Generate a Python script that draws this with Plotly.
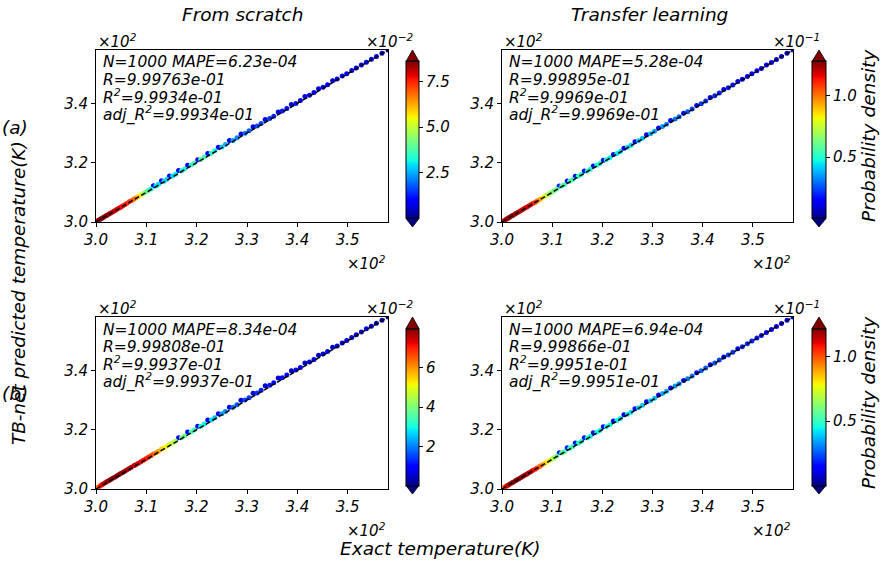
import numpy as np
import plotly.graph_objects as go

W, H = 881, 571

# ---- data -------------------------------------------------------------
# exact temperatures of the test samples (K)
exact_K = [300.0, 300.3, 300.6, 300.9, 301.2, 301.5, 301.9, 302.2, 302.6, 302.9,
           303.3, 303.7, 304.1, 304.5, 304.9, 305.3, 305.7, 306.1, 306.6, 307.0,
           307.5, 307.9, 308.4, 308.9, 309.4, 309.9, 310.4, 310.9, 311.4, 311.9,
           312.4, 313.0, 313.5, 314.1, 314.6, 315.2, 315.8, 316.4, 317.0, 317.6,
           318.2, 318.9, 319.5, 320.2, 320.8, 321.5, 322.2, 322.9, 323.6, 324.3,
           325.0, 325.7, 326.5, 327.2, 328.0, 328.8, 329.6, 330.4, 331.2, 332.0,
           332.8, 333.6, 334.5, 335.3, 336.2, 337.0, 337.9, 338.8, 339.7, 340.6,
           341.5, 342.4, 343.3, 344.2, 345.1, 346.0, 347.0, 347.9, 348.9, 349.8,
           350.8, 351.7, 352.7, 353.7, 354.7, 355.7, 356.8, 358.0]

# prediction error (predicted - exact, K) and point density, per model
err_scratch_a = [0.0, 0.1, 0.1, 0.1, 0.1, 0.1, 0.1, 0.1, 0.1, 0.1,
                 0.1, 0.1, 0.1, 0.1, 0.1, 0.1, 0.1, 0.1, 0.2, 0.2,
                 0.2, 0.2, 0.2, 0.2, 0.2, 0.2, 0.2, 0.2, 0.8, 0.2,
                 0.3, 0.9, 0.2, 0.3, 0.9, 0.3, 0.3, 1.0, 0.3, 0.3,
                 0.9, 0.3, 0.3, 0.8, 0.3, 0.4, 0.9, 0.3, 0.4, 0.9,
                 0.3, 0.4, 1.0, 0.3, 0.4, 0.9, 0.3, 0.4, 0.9, 0.4,
                 0.4, 1.0, 0.4, 0.4, 0.9, 0.4, 0.4, 0.8, 0.3, 0.4,
                 0.8, 0.3, 0.4, 0.7, 0.3, 0.3, 0.6, 0.3, 0.3, 0.2,
                 0.3, 0.2, 0.2, 0.2, 0.2, 0.1, 0.1, 0.0]
dens_scratch_a = [0.078, 0.082, 0.084, 0.085, 0.086, 0.085, 0.085, 0.084, 0.083, 0.082,
                  0.081, 0.080, 0.079, 0.078, 0.077, 0.076, 0.075, 0.074, 0.073, 0.071,
                  0.068, 0.064, 0.058, 0.052, 0.046, 0.041, 0.036, 0.033, 0.010, 0.030,
                  0.029, 0.009, 0.028, 0.028, 0.009, 0.029, 0.030, 0.008, 0.031, 0.032,
                  0.009, 0.034, 0.036, 0.010, 0.038, 0.037, 0.010, 0.034, 0.031, 0.009,
                  0.028, 0.026, 0.008, 0.024, 0.022, 0.007, 0.020, 0.019, 0.008, 0.017,
                  0.016, 0.008, 0.015, 0.014, 0.007, 0.013, 0.012, 0.007, 0.012, 0.011,
                  0.007, 0.011, 0.010, 0.006, 0.010, 0.010, 0.006, 0.009, 0.009, 0.009,
                  0.008, 0.008, 0.008, 0.007, 0.007, 0.007, 0.006, 0.006]

err_transfer_a = [0.0, 0.0, 0.0, 0.1, 0.1, 0.1, 0.1, 0.1, 0.1, 0.1,
                  0.1, 0.1, 0.1, 0.1, 0.1, 0.1, 0.1, 0.1, 0.1, 0.1,
                  0.1, 0.1, 0.1, 0.1, 0.1, 0.1, 0.1, 0.2, 0.7, 0.2,
                  0.2, 0.8, 0.2, 0.2, 0.8, 0.2, 0.2, 0.8, 0.2, 0.2,
                  0.7, 0.2, 0.2, 0.6, 0.2, 0.2, 0.6, 0.2, 0.2, 0.6,
                  0.2, 0.2, 0.6, 0.2, 0.2, 0.6, 0.2, 0.2, 0.5, 0.2,
                  0.2, 0.6, 0.2, 0.2, 0.5, 0.2, 0.2, 0.5, 0.2, 0.2,
                  0.5, 0.2, 0.2, 0.5, 0.2, 0.2, 0.4, 0.2, 0.2, 0.2,
                  0.2, 0.1, 0.2, 0.1, 0.1, 0.1, 0.1, 0.0]
dens_transfer_a = [0.114, 0.119, 0.122, 0.124, 0.125, 0.126, 0.126, 0.125, 0.124, 0.123,
                   0.122, 0.121, 0.120, 0.119, 0.118, 0.116, 0.114, 0.111, 0.107, 0.101,
                   0.094, 0.086, 0.079, 0.072, 0.067, 0.064, 0.061, 0.059, 0.018, 0.057,
                   0.056, 0.017, 0.055, 0.054, 0.016, 0.053, 0.052, 0.016, 0.051, 0.050,
                   0.016, 0.049, 0.048, 0.017, 0.047, 0.046, 0.017, 0.045, 0.044, 0.016,
                   0.043, 0.042, 0.016, 0.041, 0.040, 0.015, 0.039, 0.037, 0.015, 0.035,
                   0.033, 0.014, 0.031, 0.029, 0.013, 0.027, 0.025, 0.012, 0.023, 0.022,
                   0.011, 0.021, 0.020, 0.011, 0.019, 0.018, 0.010, 0.017, 0.016, 0.015,
                   0.015, 0.014, 0.013, 0.012, 0.012, 0.011, 0.010, 0.009]

err_scratch_b = [0.1, 0.2, 0.2, 0.2, 0.3, 0.3, 0.3, 0.3, 0.3, 0.3,
                 0.3, 0.3, 0.3, 0.3, 0.3, 0.3, 0.3, 0.3, 0.3, 0.3,
                 0.3, 0.3, 0.3, 0.3, 0.3, 0.3, 0.3, 0.3, 0.4, 0.3,
                 0.3, 0.5, 0.3, 0.3, 0.5, 0.3, 0.3, 0.9, 0.3, 0.3,
                 1.0, 0.3, 0.4, 1.0, 0.4, 0.4, 1.1, 0.4, 0.4, 1.1,
                 0.4, 0.4, 1.1, 0.4, 0.4, 1.1, 0.4, 0.4, 1.1, 0.4,
                 0.5, 1.2, 0.5, 0.5, 1.2, 0.5, 0.5, 1.1, 0.4, 0.4,
                 1.0, 0.4, 0.4, 0.9, 0.4, 0.4, 0.8, 0.3, 0.3, 0.3,
                 0.3, 0.3, 0.2, 0.3, 0.2, 0.2, 0.1, 0.0]
dens_scratch_b = [0.052, 0.060, 0.065, 0.069, 0.072, 0.074, 0.076, 0.077, 0.078, 0.079,
                  0.079, 0.079, 0.079, 0.079, 0.078, 0.078, 0.077, 0.077, 0.076, 0.075,
                  0.075, 0.074, 0.073, 0.072, 0.071, 0.070, 0.069, 0.067, 0.063, 0.060,
                  0.058, 0.055, 0.052, 0.050, 0.048, 0.046, 0.043, 0.010, 0.040, 0.038,
                  0.010, 0.035, 0.033, 0.009, 0.031, 0.029, 0.009, 0.027, 0.025, 0.008,
                  0.023, 0.021, 0.008, 0.019, 0.017, 0.007, 0.016, 0.015, 0.007, 0.014,
                  0.013, 0.006, 0.012, 0.011, 0.006, 0.010, 0.009, 0.005, 0.009, 0.009,
                  0.005, 0.008, 0.008, 0.005, 0.008, 0.008, 0.005, 0.007, 0.007, 0.007,
                  0.007, 0.006, 0.006, 0.006, 0.006, 0.005, 0.005, 0.005]

err_transfer_b = [0.0, 0.1, 0.1, 0.1, 0.1, 0.1, 0.1, 0.1, 0.1, 0.1,
                  0.1, 0.1, 0.1, 0.1, 0.1, 0.1, 0.1, 0.1, 0.1, 0.1,
                  0.1, 0.1, 0.1, 0.1, 0.1, 0.1, 0.1, 0.2, 0.8, 0.2,
                  0.2, 0.9, 0.2, 0.2, 0.9, 0.2, 0.2, 0.9, 0.2, 0.2,
                  0.8, 0.2, 0.2, 0.8, 0.2, 0.2, 0.7, 0.2, 0.2, 0.7,
                  0.2, 0.2, 0.6, 0.2, 0.2, 0.6, 0.2, 0.2, 0.5, 0.2,
                  0.2, 0.5, 0.2, 0.2, 0.4, 0.2, 0.2, 0.4, 0.2, 0.2,
                  0.4, 0.1, 0.2, 0.3, 0.1, 0.1, 0.3, 0.1, 0.1, 0.1,
                  0.1, 0.1, 0.1, 0.1, 0.1, 0.1, 0.1, 0.0]
dens_transfer_b = [0.082, 0.095, 0.104, 0.110, 0.114, 0.117, 0.119, 0.120, 0.121, 0.121,
                   0.121, 0.120, 0.119, 0.118, 0.117, 0.115, 0.113, 0.110, 0.106, 0.102,
                   0.097, 0.092, 0.086, 0.080, 0.075, 0.069, 0.064, 0.060, 0.019, 0.056,
                   0.053, 0.018, 0.051, 0.050, 0.017, 0.049, 0.048, 0.017, 0.047, 0.047,
                   0.016, 0.046, 0.046, 0.016, 0.045, 0.045, 0.016, 0.044, 0.044, 0.015,
                   0.043, 0.042, 0.015, 0.041, 0.040, 0.015, 0.039, 0.038, 0.014, 0.036,
                   0.035, 0.014, 0.033, 0.032, 0.013, 0.030, 0.029, 0.012, 0.027, 0.026,
                   0.012, 0.025, 0.024, 0.011, 0.023, 0.022, 0.011, 0.021, 0.020, 0.019,
                   0.018, 0.017, 0.016, 0.015, 0.014, 0.013, 0.012, 0.011]

stats_scratch_a = ["N=1000 MAPE=6.23e-04", "R=9.99763e-01",
                   "R<sup>2</sup>=9.9934e-01", "adj_R<sup>2</sup>=9.9934e-01"]
stats_transfer_a = ["N=1000 MAPE=5.28e-04", "R=9.99895e-01",
                    "R<sup>2</sup>=9.9969e-01", "adj_R<sup>2</sup>=9.9969e-01"]
stats_scratch_b = ["N=1000 MAPE=8.34e-04", "R=9.99808e-01",
                   "R<sup>2</sup>=9.9937e-01", "adj_R<sup>2</sup>=9.9937e-01"]
stats_transfer_b = ["N=1000 MAPE=6.94e-04", "R=9.99866e-01",
                    "R<sup>2</sup>=9.9951e-01", "adj_R<sup>2</sup>=9.9951e-01"]

x_tickvals = [300, 310, 320, 330, 340, 350]
x_ticktext = ["3.0", "3.1", "3.2", "3.3", "3.4", "3.5"]
y_tickvals = [300, 320, 340]
y_ticktext = ["3.0", "3.2", "3.4"]

col_titles = ["From scratch", "Transfer learning"]
row_labels = ["(a)", "(b)"]
x_title = "Exact temperature(K)"
y_title = "TB-net predicted temperature(K)"
cbar_title = "Probability density"

# ---- matplotlib-style jet colour scale --------------------------------
JET = {
    "r": [(0, 0), (0.35, 0), (0.66, 1), (0.89, 1), (1, 0.5)],
    "g": [(0, 0), (0.125, 0), (0.375, 1), (0.64, 1), (0.91, 0), (1, 0)],
    "b": [(0, 0.5), (0.11, 1), (0.34, 1), (0.65, 0), (1, 0)],
}
stops = sorted({p for seg in JET.values() for p, _ in seg})


def seg_at(seg, t):
    xs = [p for p, _ in seg]
    vs = [v for _, v in seg]
    return float(np.interp(t, xs, vs))


jet = [[t, "rgb(%d,%d,%d)" % tuple(round(255 * seg_at(JET[c], t)) for c in "rgb")]
       for t in stops]

FONT = "DejaVu Sans"


def fx(px):
    return px / W


def fy(py):
    return 1 - py / H


# panel boxes in pixels: left, right, top, bottom; colour bar left/right edges
panels = [
    dict(err=err_scratch_a, dens=dens_scratch_a, stats=stats_scratch_a,
         box=(96, 388, 50, 222), cb=(406, 419), cmin=0.0, cmax=0.0858,
         ctv=[0.025, 0.05, 0.075], ctt=["2.5", "5.0", "7.5"], cexp="−2", ctitle=False),
    dict(err=err_transfer_a, dens=dens_transfer_a, stats=stats_transfer_a,
         box=(502, 793, 50, 222), cb=(812, 826), cmin=0.0, cmax=0.128,
         ctv=[0.05, 0.10], ctt=["0.5", "1.0"], cexp="−1", ctitle=True),
    dict(err=err_scratch_b, dens=dens_scratch_b, stats=stats_scratch_b,
         box=(96, 388, 317, 489), cb=(406, 419), cmin=0.0005, cmax=0.0795,
         ctv=[0.02, 0.04, 0.06], ctt=["2", "4", "6"], cexp="−2", ctitle=False),
    dict(err=err_transfer_b, dens=dens_transfer_b, stats=stats_transfer_b,
         box=(502, 793, 317, 489), cb=(812, 826), cmin=0.0, cmax=0.122,
         ctv=[0.05, 0.10], ctt=["0.5", "1.0"], cexp="−1", ctitle=True),
]

fig = go.Figure()
annotations = []
shapes = []
tick_font = dict(family=FONT, size=15, color="black", style="italic")
lo, hi = min(exact_K), max(exact_K)
exact = np.array(exact_K)

for i, p in enumerate(panels):
    n = i + 1
    xa = "x" if n == 1 else f"x{n}"
    ya = "y" if n == 1 else f"y{n}"
    l, r, t, b = p["box"]
    cb_l, cb_r = p["cb"]
    body_t, body_b = t + 11.5, b - 3.5

    pred = exact + np.array(p["err"])
    dens = np.array(p["dens"])
    order = np.argsort(dens, kind="stable")  # densest points drawn last

    fig.add_trace(go.Scatter(
        x=exact[order], y=pred[order], mode="markers", xaxis=xa, yaxis=ya,
        showlegend=False,
        marker=dict(
            size=5, color=dens[order], colorscale=jet, cmin=p["cmin"], cmax=p["cmax"],
            line=dict(width=0),
            colorbar=dict(
                x=fx(cb_l), xanchor="left", xpad=0, ypad=0,
                y=fy(body_t), yanchor="top", lenmode="pixels", len=body_b - body_t,
                thickness=cb_r - cb_l, outlinewidth=1, outlinecolor="black",
                tickvals=p["ctv"], ticktext=p["ctt"], ticks="outside", ticklen=4,
                tickwidth=1, tickcolor="black", tickfont=tick_font,
            ),
        ),
    ))
    # identity reference line
    fig.add_trace(go.Scatter(
        x=[lo, hi], y=[lo, hi], mode="lines", xaxis=xa, yaxis=ya, showlegend=False,
        line=dict(color="black", width=1.5, dash="5px,2.5px"),
    ))

    axis_common = dict(
        range=[lo, hi], showline=True, mirror=True, linecolor="black", linewidth=1,
        ticks="outside", ticklen=4, tickwidth=1, tickcolor="black",
        showgrid=False, zeroline=False, tickfont=tick_font,
    )
    fig.update_layout(**{
        ("xaxis" if n == 1 else f"xaxis{n}"): dict(
            axis_common, domain=[fx(l), fx(r)], anchor=ya,
            tickvals=x_tickvals, ticktext=x_ticktext),
        ("yaxis" if n == 1 else f"yaxis{n}"): dict(
            axis_common, domain=[fy(b), fy(t)], anchor=xa,
            tickvals=y_tickvals, ticktext=y_ticktext),
    })

    # statistics text
    for k, line in enumerate(p["stats"]):
        annotations.append(dict(
            text=line, xref="paper", yref="paper", x=fx(l + 4.5), y=fy(t + 12.5 + 17 * k),
            xanchor="left", yanchor="middle", showarrow=False,
            font=dict(family=FONT, size=15.5, color="black", style="italic"),
        ))

    # axis offset labels
    off_font = dict(family=FONT, size=15, color="black", style="italic")
    annotations.append(dict(text="×10<sup>2</sup>", xref="paper", yref="paper",
                            x=fx(l), y=fy(t - 9), xanchor="left", yanchor="middle",
                            showarrow=False, font=off_font))
    annotations.append(dict(text="×10<sup>2</sup>", xref="paper", yref="paper",
                            x=fx(r), y=fy(b + 41), xanchor="right", yanchor="middle",
                            showarrow=False, font=off_font))
    annotations.append(dict(text="×10<sup>%s</sup>" % p["cexp"], xref="paper", yref="paper",
                            x=fx(cb_r - 4), y=fy(t - 9), xanchor="right", yanchor="middle",
                            showarrow=False, font=off_font))

    # colour bar extension triangles
    cm = (cb_l + cb_r) / 2
    shapes.append(dict(
        type="path", xref="paper", yref="paper",
        path=f"M {fx(cb_l)},{fy(body_t)} L {fx(cb_r)},{fy(body_t)} L {fx(cm)},{fy(t)} Z",
        fillcolor=jet[-1][1], line=dict(color="black", width=0.8)))
    shapes.append(dict(
        type="path", xref="paper", yref="paper",
        path=f"M {fx(cb_l)},{fy(body_b)} L {fx(cb_r)},{fy(body_b)} L {fx(cm)},{fy(b + 5)} Z",
        fillcolor=jet[0][1], line=dict(color="black", width=0.8)))

    if p["ctitle"]:
        annotations.append(dict(
            text=cbar_title, xref="paper", yref="paper", x=fx(868), y=fy((t + b) / 2),
            xanchor="center", yanchor="middle", textangle=-90, showarrow=False,
            font=dict(family=FONT, size=18.5, color="black", style="italic")))

label_font = dict(family=FONT, size=18.5, color="black", style="italic")
annotations += [
    dict(text=col_titles[0], x=fx(242), y=fy(14)),
    dict(text=col_titles[1], x=fx(650), y=fy(14)),
    dict(text=x_title, x=fx(440), y=fy(548)),
    dict(text=y_title, x=fx(18), y=fy(293), textangle=-90),
    dict(text=row_labels[0], x=fx(15), y=fy(127)),
    dict(text=row_labels[1], x=fx(15), y=fy(393)),
]
for a in annotations[-6:]:
    a.update(xref="paper", yref="paper", xanchor="center", yanchor="middle",
             showarrow=False, font=label_font)

fig.update_layout(
    width=W, height=H, margin=dict(l=0, r=0, t=0, b=0, autoexpand=False),
    paper_bgcolor="white", plot_bgcolor="white",
    annotations=annotations, shapes=shapes,
)

fig.write_html("out.html")
